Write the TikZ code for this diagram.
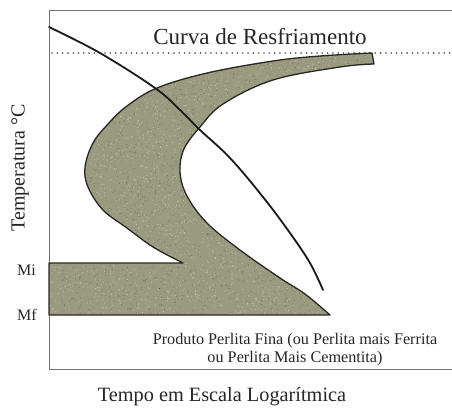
\documentclass[tikz,border=0pt]{standalone}
\usepackage{fontspec}
\setmainfont{Liberation Serif}
\definecolor{grain}{RGB}{154,154,129}
\definecolor{edge}{RGB}{40,40,35}
\tikzset{
  lbl/.style={inner sep=0pt, anchor=base, text=black!85},
  axisline/.style={draw=black!55, line width=1pt},
  shapeline/.style={draw=edge, line width=1.3pt, line join=round},
  coolline/.style={draw=black!90, line width=1.8pt, line cap=round},
}
\def\Cpath{(372,53) -- plot[smooth, tension=0.6] coordinates {(372,53) (320,56) (273,61) (207,73) (157,88) (127,106) (108,124) (93,143) (85,167) (88,187) (103,210) (127,228) (153,247) (183,263)} -- (49,263) -- (49,315) -- (330,315) -- plot[smooth, tension=0.6] coordinates {(330,315) (305,294) (280,278) (240,250) (207,223) (187,196) (180,172) (184,149) (200,127) (223,104) (273,80) (340,67) (374,64)} -- cycle}
\begin{document}
\begin{tikzpicture}[x=1pt, y=-1pt]
\useasboundingbox (0,0) rectangle (452,408);
\fill[white] (0,0) rectangle (452,408);
% frame
\draw[axisline] (452,10) -- (49,10) -- (49,369) -- (452,369);
% dotted line
\draw[black!70, line width=1.8pt, line cap=round, dash pattern=on 0pt off 5.3pt] (52,53) -- (452,53);
% shaded region
\fill[grain] \Cpath;
\begin{scope}
  \clip \Cpath;
  \pgfmathsetseed{7}
  \foreach \i in {1,...,3200} {
    \pgfmathsetmacro\rx{49+rnd*326}
    \pgfmathsetmacro\ry{52+rnd*264}
    \fill[white, opacity=0.35] (\rx,\ry) circle[radius=0.55pt];
  }
  \foreach \i in {1,...,2600} {
    \pgfmathsetmacro\rx{49+rnd*326}
    \pgfmathsetmacro\ry{52+rnd*264}
    \fill[black, opacity=0.2] (\rx,\ry) circle[radius=0.55pt];
  }
\end{scope}
\draw[shapeline] \Cpath;
% cooling curve
\coordinate (c0) at (49,27);
\coordinate (c1) at (323,290);
\draw[coolline] plot[smooth, tension=0.6] coordinates {(c0) (100,53) (155,88) (180,110) (200,130) (230,158) (263,197) (290,233) (310,263) (c1)};
% texts
\node[lbl, font=\fontsize{23}{26}\selectfont] (title) at (260,44) {Curva de Resfriamento};
\node[lbl, font=\fontsize{20}{24}\selectfont, rotate=90, anchor=center] (ylab) at (20,168) {Temperatura °C};
\node[lbl, font=\fontsize{16}{18}\selectfont, anchor=base west] (mi) at (17,275) {Mi};
\node[lbl, font=\fontsize{16}{18}\selectfont, anchor=base west] (mf) at (17,320) {Mf};
\node[lbl, font=\fontsize{16.2}{18}\selectfont] (prod1) at (295,344) {Produto Perlita Fina (ou Perlita mais Ferrita};
\node[lbl, font=\fontsize{16.2}{18}\selectfont] (prod2) at (295,362) {ou Perlita Mais Cementita)};
\node[lbl, font=\fontsize{20.3}{24}\selectfont] (xlab) at (222,401) {Tempo em Escala Logarítmica};
\end{tikzpicture}
\end{document}
